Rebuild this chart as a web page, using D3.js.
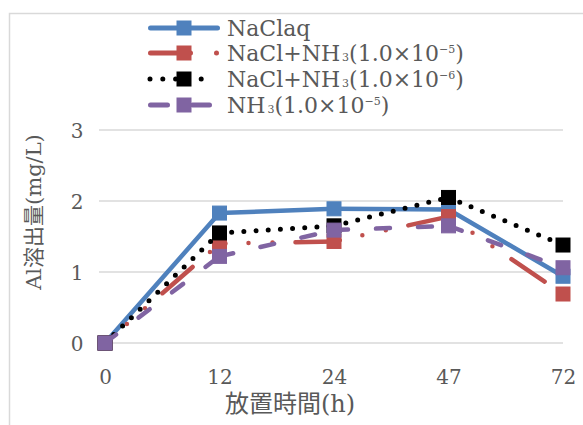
<!DOCTYPE html>
<html>
<head>
<meta charset="utf-8">
<script src="https://cdn.jsdelivr.net/npm/d3@7"></script>
<style>
  html, body { margin: 0; padding: 0; background: #fff; }
  svg { display: block; }
</style>
</head>
<body>
<svg id="chart" width="583" height="425"></svg>
<script>
// Elapsed time categories (h)
const hours = ["0", "12", "24", "47", "72"];
// Al dissolution (mg/L) for each condition
const naclAq      = [0, 1.83, 1.89, 1.88, 0.94];
const naclNh3e5   = [0, 1.40, 1.43, 1.78, 0.69];
const naclNh3e6   = [0, 1.55, 1.65, 2.05, 1.38];
const nh3e5       = [0, 1.22, 1.59, 1.65, 1.06];
const yTicks = [0, 1, 2, 3];

const series = [
  { key: "naclAq",    values: naclAq,    color: "#4f81bd", dash: null,                  offset: 0,  legendDash: null },
  { key: "naclNh3e5", values: naclNh3e5, color: "#c0504d", dash: "40,23,0,24,0,23",     offset: 34, legendDash: "40,26,0,100" },
  { key: "naclNh3e6", values: naclNh3e6, color: "#000000", dash: "0,12.2",              offset: 0,  legendDash: "0,12.8" },
  { key: "nh3e5",     values: nh3e5,     color: "#8064a2", dash: "14,28",               offset: 0,  legendDash: "17,25" }
];

const svg = d3.select("#chart");
const textColor = "#595959";
const serif = "'DejaVu Serif', 'Noto Sans CJK JP', serif";

// outer chart frame
svg.append("path")
  .attr("d", "M9.5,425 V13.5 H583")
  .attr("fill", "none").attr("stroke", "#d9d9d9").attr("stroke-width", 1.5);

const x = d3.scalePoint().domain(hours).range([105, 563]);
const y = d3.scaleLinear().domain([0, 3]).range([343, 130]);

// horizontal gridlines
svg.append("g").selectAll("line").data(yTicks).join("line")
  .attr("x1", 99).attr("x2", 563)
  .attr("y1", d => y(d)).attr("y2", d => y(d))
  .attr("stroke", "#d9d9d9").attr("stroke-width", 1.5);

// y axis labels
const yAxis = svg.append("g").attr("transform", "translate(89,0)")
  .call(d3.axisLeft(y).tickValues(yTicks).tickSize(0).tickPadding(0).tickFormat(d3.format("d")));
yAxis.select(".domain").remove();
yAxis.selectAll("text")
  .attr("x", -12).attr("dy", "0.36em")
  .attr("text-anchor", "middle")
  .attr("fill", textColor).style("font-family", serif).style("font-size", "20px");

// x axis labels
const xAxis = svg.append("g").attr("transform", "translate(0,343)")
  .call(d3.axisBottom(x).tickSize(0).tickPadding(0));
xAxis.select(".domain").remove();
xAxis.selectAll("text")
  .attr("y", 34).attr("dy", "0.36em")
  .attr("fill", textColor).style("font-family", serif).style("font-size", "20px");

// axis titles
svg.append("text")
  .attr("x", 290).attr("y", 403).attr("dy", "0.36em")
  .attr("text-anchor", "middle")
  .attr("fill", textColor).style("font-family", serif).style("font-size", "24px")
  .text("放置時間(h)");

svg.append("text")
  .attr("transform", "translate(33,212) rotate(-90)")
  .attr("dy", "0.36em")
  .attr("text-anchor", "middle")
  .attr("fill", textColor).style("font-family", serif).style("font-size", "21px")
  .text("Al溶出量(mg/L)");

// series lines, one path per segment so the dash pattern restarts at each point
const line = d3.line().x(d => x(d.h)).y(d => y(d.v));
const markerSize = 14;

series.forEach(s => {
  const pts = hours.map((h, i) => ({ h, v: s.values[i] }));
  const segs = d3.pairs(pts);
  const g = svg.append("g");
  g.selectAll("path").data(segs).join("path")
    .attr("d", line)
    .attr("fill", "none")
    .attr("stroke", s.color)
    .attr("stroke-width", s.key === "naclNh3e6" ? 5 : 4.5)
    .attr("stroke-linecap", "round")
    .attr("stroke-dasharray", s.dash)
    .attr("stroke-dashoffset", s.offset);
  g.selectAll("rect").data(pts).join("rect")
    .attr("x", d => x(d.h) - markerSize / 2)
    .attr("y", d => y(d.v) - markerSize / 2)
    .attr("width", markerSize).attr("height", markerSize)
    .attr("fill", s.color).attr("stroke", s.color).attr("stroke-width", 1);
});

// legend
const legendRows = [28, 53, 79, 105];
const legend = svg.append("g");
series.forEach((s, i) => {
  const ly = legendRows[i];
  const row = legend.append("g");
  let x1 = 150.5, x2 = 217.5;
  if (s.key === "naclNh3e5") { x1 = 150.5; x2 = 218; }
  if (s.key === "naclNh3e6") { x1 = 150; x2 = 214; }
  if (s.key === "nh3e5") { x1 = 150.5; x2 = 209.5; }
  row.append("path")
    .attr("d", `M${x1},${ly} H${x2}`)
    .attr("fill", "none").attr("stroke", s.color)
    .attr("stroke-width", 5).attr("stroke-linecap", "round")
    .attr("stroke-dasharray", s.legendDash);
  row.append("rect")
    .attr("x", 184 - markerSize / 2).attr("y", ly - markerSize / 2)
    .attr("width", markerSize).attr("height", markerSize)
    .attr("fill", s.color).attr("stroke", s.color).attr("stroke-width", 1);
});

// legend labels with sub/superscripts
function label(parts, ly) {
  const t = legend.append("text")
    .attr("x", 227).attr("y", ly).attr("dy", "0.36em")
    .attr("fill", textColor).style("font-family", serif).style("font-size", "22px");
  parts.forEach(p => {
    const ts = t.append("tspan").text(p.t);
    if (p.sub) ts.style("font-size", "11px").attr("dx", 2).attr("dy", 0);
    if (p.sup) ts.style("font-size", "11px").attr("dy", -8);
    if (p.after) ts.attr("dy", p.after);
  });
  return t;
}
label([{ t: "NaClaq" }], legendRows[0]);
label([{ t: "NaCl+NH" }, { t: "3", sub: true }, { t: "(1.0×10" }, { t: "−5", sup: true }, { t: ")", after: 8 }], legendRows[1]);
label([{ t: "NaCl+NH" }, { t: "3", sub: true }, { t: "(1.0×10" }, { t: "−6", sup: true }, { t: ")", after: 8 }], legendRows[2]);
label([{ t: "NH" }, { t: "3", sub: true }, { t: "(1.0×10" }, { t: "−5", sup: true }, { t: ")", after: 8 }], legendRows[3]);
</script>
</body>
</html>
